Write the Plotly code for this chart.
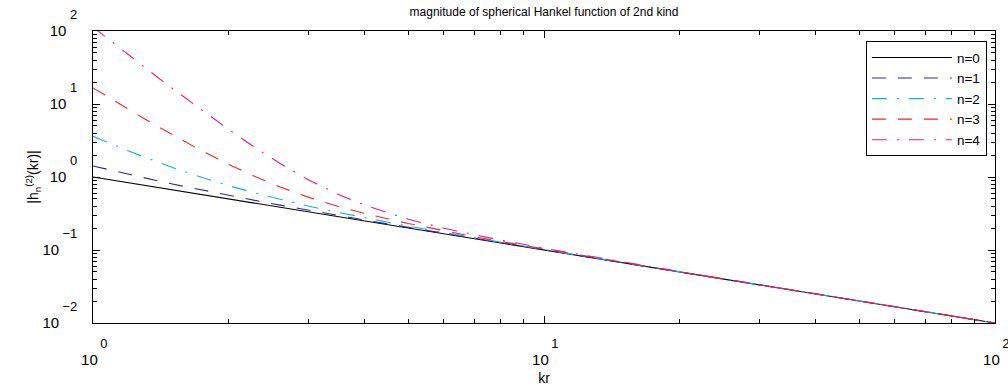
import plotly.graph_objects as go

# sample points of kr
kr = [1, 1.05, 1.1, 1.2, 1.3, 1.4, 1.5, 1.7, 2, 2.3, 2.6, 3, 3.5, 4, 5, 6, 7, 8,
      10, 13, 16, 20, 30, 50, 100]

h_n0 = [1.0, 0.9524, 0.9091, 0.8333, 0.7692, 0.7143, 0.6667, 0.5882, 0.5, 0.4348,
        0.3846, 0.3333, 0.2857, 0.25, 0.2, 0.1667, 0.1429, 0.125,
        0.1, 0.07692, 0.0625, 0.05, 0.03333, 0.02, 0.01]
h_n1 = [1.4142, 1.3152, 1.2286, 1.0848, 0.9705, 0.8778, 0.8012, 0.6825, 0.5590, 0.4741,
        0.4121, 0.3514, 0.2972, 0.2577, 0.2040, 0.1690, 0.1443, 0.1260,
        0.1005, 0.07715, 0.06262, 0.05006, 0.03335, 0.02000, 0.0100005]
h_n2 = [3.6056, 3.1767, 2.8206, 2.2705, 1.8726, 1.5768, 1.3517, 1.0383, 0.7603, 0.5975,
        0.4927, 0.4006, 0.3264, 0.2764, 0.2130, 0.1740, 0.1474, 0.1280,
        0.1015, 0.07762, 0.06287, 0.05019, 0.03339, 0.02001, 0.0100015]
h_n3 = [16.643, 13.846, 11.631, 8.4254, 6.2928, 4.8264, 3.7894, 2.4808, 1.4856, 0.9974,
        0.7298, 0.5303, 0.3951, 0.3168, 0.2303, 0.1831, 0.1527, 0.1314,
        0.1032, 0.07834, 0.06325, 0.05038, 0.03345, 0.02002, 0.010003]
h_n4 = [112.90, 89.13, 71.20, 46.88, 32.01, 22.559, 16.337, 9.187, 4.4613, 2.4761,
        1.5294, 0.9201, 0.5759, 0.4112, 0.2642, 0.1988, 0.1614, 0.1367,
        0.1056, 0.07936, 0.06378, 0.05064, 0.03352, 0.02004, 0.010005]

names = ["n=0", "n=1", "n=2", "n=3", "n=4"]
colors = ["#000000", "#2a2a9c", "#12aef0", "#f0282a", "#e8188c"]
dashes = ["solid", "14px,12px", "15px,10px,2px,10px", "14px,12px", "15px,10px,2px,10px"]
series = [h_n0, h_n1, h_n2, h_n3, h_n4]

x_ticks = [1, 10, 100]
x_exp = ["0", "1", "2"]
y_ticks = [0.01, 0.1, 1, 10, 100]
y_exp = ["−2", "−1", "0", "1", "2"]

FONT = "Liberation Sans, Arial, Helvetica, sans-serif"
NB = "&nbsp;"
BASE = "<span style='font-size:15px'>10</span>"


def xlabel(e):
    # MATLAB-style: exponent raised to the upper right of the base "10"
    return NB * 6 + e + "<br>" + BASE + NB * 2


def ylabel(e):
    pad = NB * (5 if len(e) > 1 else 3)
    return e + "<br>" + BASE + pad + "<br>" + NB


fig = go.Figure()
for nm, ys, c, d in zip(names, series, colors, dashes):
    fig.add_trace(go.Scatter(x=kr, y=ys, mode="lines", name=nm,
                             line=dict(color=c, width=1.1, dash=d)))

x_minor = [m * 10 ** k for k in range(0, 2) for m in range(2, 10)]
y_minor = [m * 10.0 ** k for k in range(-2, 2) for m in range(2, 10)]

axis_common = dict(showgrid=False, zeroline=False, showline=True, linecolor="black",
                   linewidth=1.3, mirror="ticks", ticks="inside", ticklen=7,
                   tickcolor="black", tickwidth=1, type="log", automargin=False,
                   ticklabeloverflow="allow",
                   tickfont=dict(family=FONT, size=13, color="black"))

fig.update_xaxes(**axis_common, range=[0, 2], tickvals=x_ticks,
                 ticktext=[xlabel(e) for e in x_exp],
                 ticklabelstandoff=8,
                 minor=dict(tickvals=x_minor, ticks="inside", ticklen=4,
                            tickcolor="black", showgrid=False),
                 title=dict(text="kr", font=dict(family=FONT, size=14, color="black"),
                            standoff=6))
fig.update_yaxes(**axis_common, range=[-2, 2], tickvals=y_ticks,
                 ticktext=[ylabel(e) for e in y_exp],
                 ticklabelstandoff=12,
                 minor=dict(tickvals=y_minor, ticks="inside", ticklen=4,
                            tickcolor="black", showgrid=False),
                 title=dict(text="|h<sub>n</sub><sup>(2)</sup>(kr)|",
                            font=dict(family=FONT, size=14, color="black"),
                            standoff=0))

fig.update_layout(
    width=1008, height=390,
    margin=dict(l=93, r=13, t=31, b=67),
    plot_bgcolor="white", paper_bgcolor="white",
    title=dict(text="magnitude of spherical Hankel function of 2nd kind",
               x=(93 + 995) / 2 / 1008, xanchor="center",
               y=1 - 12 / 390, yanchor="middle", yref="container",
               font=dict(family=FONT, size=12, color="black")),
    legend=dict(x=0.991, xanchor="right", y=0.965, yanchor="top",
                bgcolor="white", bordercolor="black", borderwidth=1,
                font=dict(family=FONT, size=13.5, color="black"),
                itemwidth=80, tracegroupgap=0),
    showlegend=True,
)

fig.write_html("out.html")
